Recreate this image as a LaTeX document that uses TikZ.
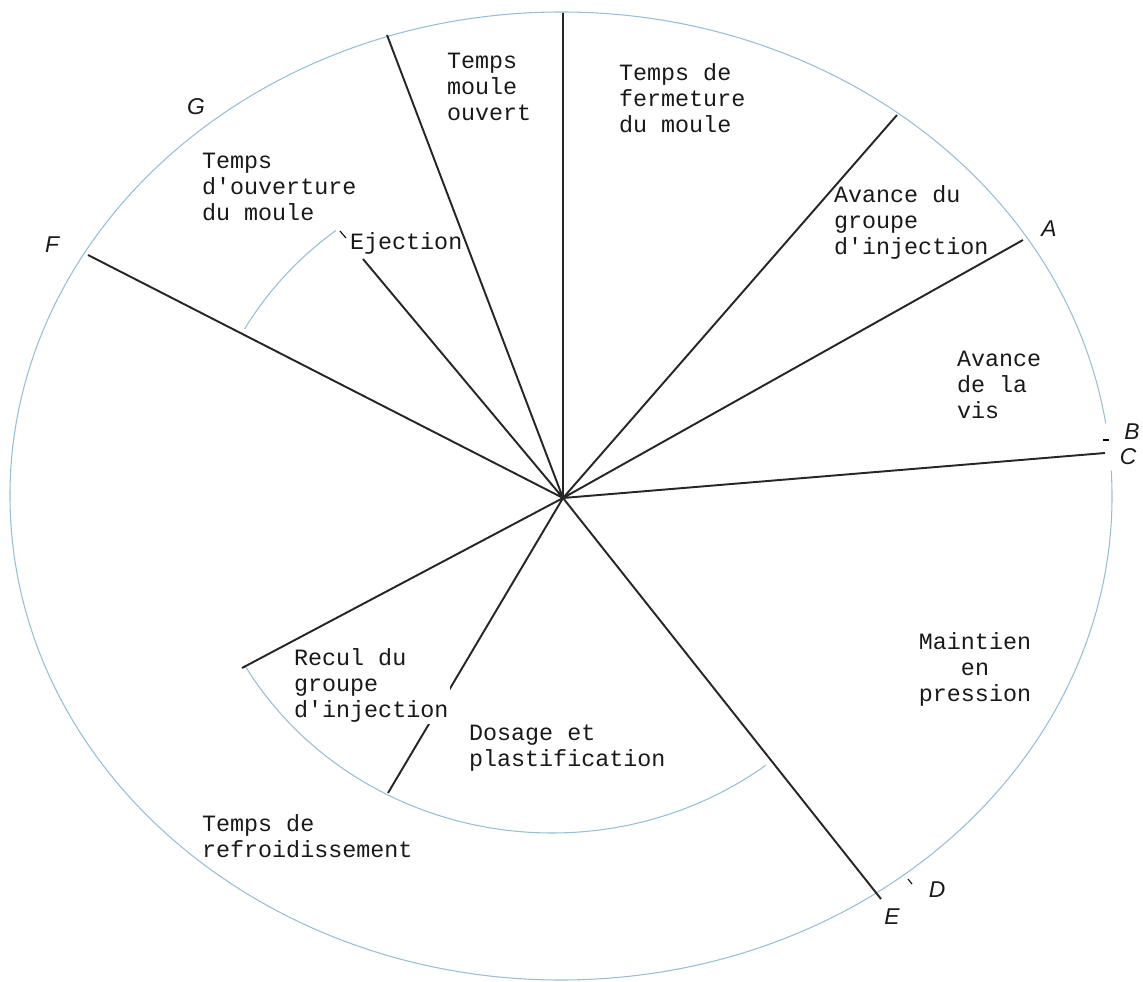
\documentclass[tikz,border=0pt]{standalone}
\usepackage{fontspec}
\usepackage{tikz}
\usetikzlibrary{positioning}
\newfontfamily\typewriter{Liberation Mono}
\newfontfamily\handfont{Liberation Sans}
\definecolor{pencil}{RGB}{150,190,215}

\begin{document}
\begin{tikzpicture}[x=0.02cm,y=-0.02cm,
  spoke/.style={line width=1.1pt,color=black!85},
  rim/.style={line width=0.6pt,color=pencil},
  every node/.append style={inner sep=1pt}]
  \tikzstyle{phase} = [font=\typewriter\fontsize{13.3}{14.8}\selectfont,align=left,anchor=west,color=black!90]
  \tikzstyle{letter} = [font=\handfont\itshape\fontsize{13}{15}\selectfont,color=black!90]
  \useasboundingbox (0,0) rectangle (1143,982);
  % outer and inner circles
  \draw[rim] (561,496) ++(-3:551 and 484) arc[start angle=-3,end angle=351.4,x radius=551,y radius=484];
  \draw[rim] (552,497) ++(-127.5:355 and 336) arc[start angle=-127.5,end angle=-150,x radius=355,y radius=336];
  \draw[rim] (552,497) ++(-210:355 and 336) arc[start angle=-210,end angle=-307,x radius=355,y radius=336];
  % small pencil marks
  \draw[line width=0.6pt] (340,231) -- (346,238);
  \draw[line width=0.6pt] (1103,440) -- (1109,440);
  \draw[line width=0.6pt] (908,879) -- (912,884);
  % spokes
  \coordinate (o) at (563,498);
  \coordinate (r_1) at (563,13);
  \coordinate (r_2) at (897,115);
  \coordinate (r_3) at (1023,240);
  \coordinate (r_4) at (1105,453);
  \coordinate (r_5) at (881,899);
  \coordinate (r_6) at (388,793);
  \coordinate (r_7) at (242,668);
  \coordinate (r_8) at (88,255);
  \coordinate (r_9) at (363,259);
  \coordinate (r_10) at (387,35);
  \draw[spoke] (o) -- (r_1) (o) -- (r_2) (o) -- (r_3) (o) -- (r_4) (o) -- (r_5)
               (o) -- (r_6) (o) -- (r_7) (o) -- (r_8) (o) -- (r_9) (o) -- (r_10);
  % phases
  \node (t_1) [phase] at (445,87) {Temps\\moule\\ouvert};
  \node (t_2) [phase] at (617,98) {Temps de\\fermeture\\du moule};
  \node (t_3) [phase] at (832,222) {Avance du\\groupe\\d'injection};
  \node (t_4) [phase] at (955,385) {Avance\\de la\\vis};
  \node (t_5) [phase,align=center,anchor=center] at (975,669) {Maintien\\en\\pression};
  \node (t_6) [phase] at (467,748) {Dosage et\\plastification};
  \node (t_7) [phase,fill=white] at (292,685) {Recul du\\groupe\\d'injection};
  \node (t_8) [phase] at (200,836) {Temps de\\refroidissement};
  \node (t_9) [phase] at (200,187) {Temps\\d'ouverture\\du moule};
  \node (t_10) [phase] at (348,243) {Ejection};
  % letters
  \node (l_A) [letter] at (1049,229) {A};
  \node (l_B) [letter] at (1132,432) {B};
  \node (l_C) [letter] at (1128,457) {C};
  \node (l_D) [letter] at (937,890) {D};
  \node (l_E) [letter] at (892,917) {E};
  \node (l_F) [letter] at (52,245) {F};
  \node (l_G) [letter] at (196,107) {G};
\end{tikzpicture}
\end{document}
